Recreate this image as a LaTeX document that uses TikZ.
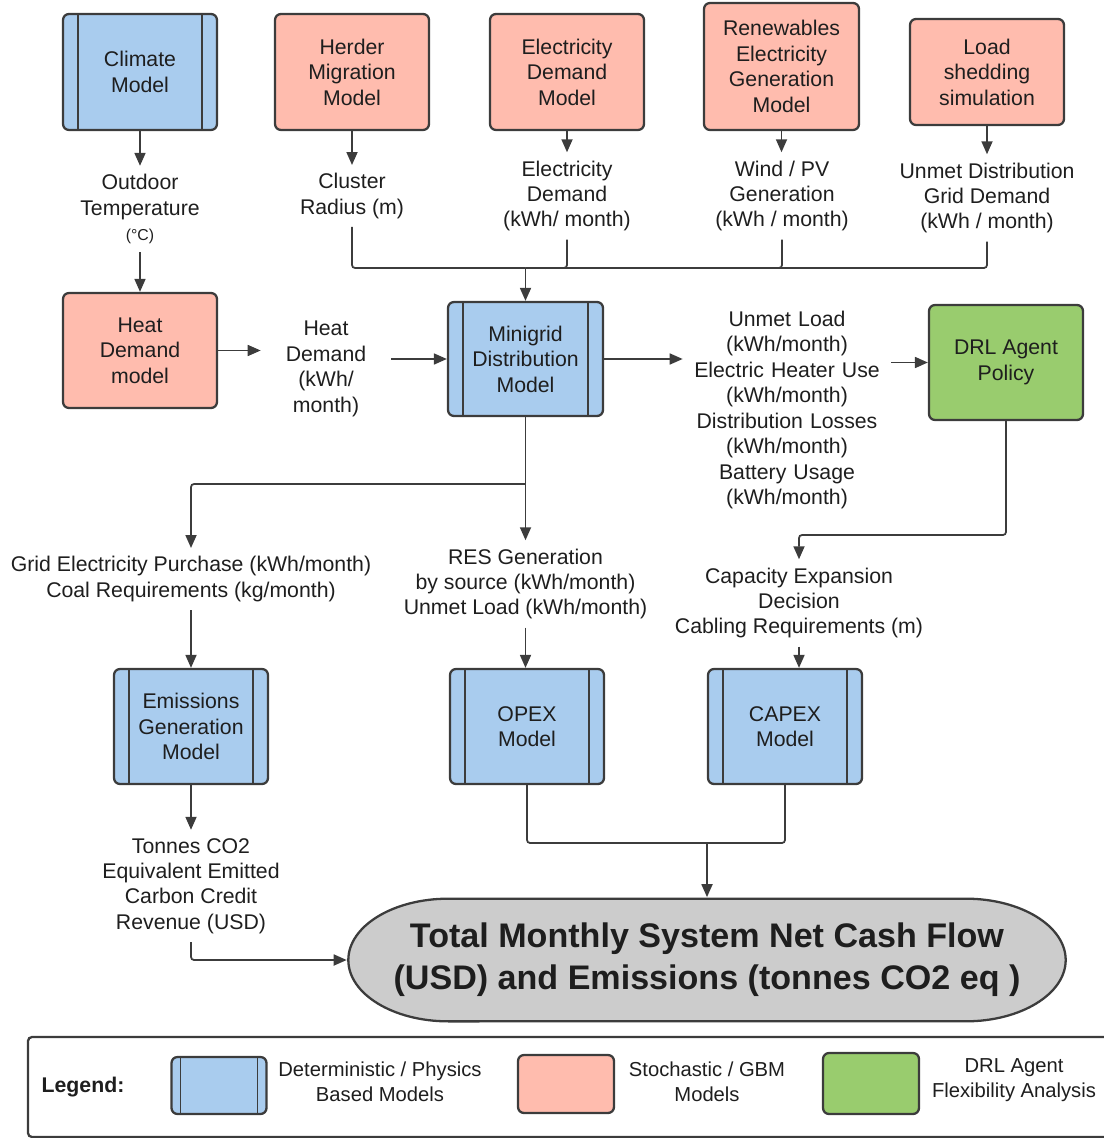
\documentclass[tikz,border=0pt]{standalone}
\usepackage{fontspec}
\setmainfont{Liberation Sans}
\usepackage{tikz}
\usetikzlibrary{arrows.meta}
\definecolor{physblue}{HTML}{A9CCEE}
\definecolor{stochred}{HTML}{FFBCAE}
\definecolor{agentgreen}{HTML}{99CC6E}
\definecolor{totalgrey}{HTML}{CCCCCC}
\definecolor{lineink}{HTML}{3C3C3C}
\definecolor{textink}{HTML}{1E1E1E}
\tikzset{
  model box/.style={
    draw=lineink, line width=1.3pt, rounded corners=0.12cm,
    minimum width=3.08cm, minimum height=2.32cm, align=center,
    text=textink, font=\fontsize{12.1}{14.5}\selectfont
  },
  style phys/.style={
    model box, fill=physblue,
    path picture={
      \draw[lineink, line width=1.1pt]
        ([xshift=#1]path picture bounding box.north west) -- ([xshift=#1]path picture bounding box.south west)
        ([xshift=-#1]path picture bounding box.north east) -- ([xshift=-#1]path picture bounding box.south east);
    }
  },
  style phys/.default=0.3cm,
  style stoch/.style={model box, fill=stochred},
  style agent/.style={model box, fill=agentgreen},
  flow label/.style={
    align=center, inner xsep=0pt, inner ysep=0.16cm,
    text=textink, font=\fontsize{12.1}{14.5}\selectfont
  },
  legend text/.style={
    align=center, inner sep=0pt,
    text=textink, font=\fontsize{11.5}{14.2}\selectfont
  },
  total/.style={
    rectangle, inner sep=0pt,
    minimum width=14.4cm, minimum height=2.5cm, align=center,
    text=textink, font=\fontsize{19.4}{23.8}\selectfont\bfseries,
    path picture={
      \filldraw[draw=lineink, fill=totalgrey, line width=1.3pt]
        ([xshift=2.025cm, yshift=-0.65pt]path picture bounding box.north west)
        -- ([xshift=-2.025cm, yshift=-0.65pt]path picture bounding box.north east)
        arc[start angle=90, end angle=-90, x radius=2cm, y radius=1.227cm]
        -- ([xshift=2.025cm, yshift=0.65pt]path picture bounding box.south west)
        arc[start angle=270, end angle=90, x radius=2cm, y radius=1.227cm]
        -- cycle;
    }
  },
  flow/.style={draw=lineink, line width=1pt, rounded corners=0.06cm, -{Triangle[length=0.26cm,width=0.22cm]}},
  link/.style={draw=lineink, line width=1pt, rounded corners=0.06cm}
}

\begin{document}
\begin{tikzpicture}[x=0.02cm, y=-0.02cm]
    \useasboundingbox (0,0) rectangle (1103,1138);

    \node[style phys] (clim) at (140,72) {Climate\\Model};
    \node[style stoch] (herder) at (352,72) {Herder\\Migration\\Model};
    \node[style stoch] (edem) at (567,72) {Electricity\\Demand\\Model};
    \node[style stoch, minimum width=3.1cm, minimum height=2.54cm] (renew) at (781.5,66.5) {Renewables\\Electricity\\Generation\\Model};
    \node[style stoch, minimum height=2.12cm] (shed) at (987,72) {Load\\shedding\\simulation};
    \node[style stoch, minimum height=2.3cm] (heat) at (140,350.5) {Heat\\Demand\\model};
    \node[style phys, minimum width=3.1cm, minimum height=2.28cm] (mini) at (525.5,359) {Minigrid\\Distribution\\Model};
    \node[style agent, minimum height=2.3cm] (drl) at (1006,362.5) {DRL Agent\\Policy};
    \node[style phys, minimum height=2.3cm] (emis) at (191,726.5) {Emissions\\Generation\\Model};
    \node[style phys, minimum height=2.3cm] (opex) at (527,726.5) {OPEX\\Model};
    \node[style phys, minimum height=2.3cm] (capex) at (785,726.5) {CAPEX\\Model};
    \node[total] (sum) at (707,960) {Total Monthly System Net Cash Flow\\(USD) and Emissions (tonnes CO2 eq )};

    \begin{scope}[every node/.style={flow label}]
        \node (tout) at (140,209) {Outdoor\\Temperature\\{\fontsize{9}{11}\selectfont(°C)}};
        \node (radius) at (352,196) {Cluster\\Radius (m)};
        \node (edemout) at (567,196) {Electricity\\Demand\\(kWh/ month)};
        \node (windpv) at (782,196) {Wind / PV\\Generation\\(kWh / month)};
        \node (unmetgrid) at (987,198) {Unmet Distribution\\Grid Demand\\(kWh / month)};
        \node[text width=2.6cm] (heatout) at (326,369) {Heat\\Demand\\(kWh/\\month)};
        \node[text width=4.16cm] (miniout) at (787,410) {Unmet Load\\(kWh/month)\\Electric Heater Use\\(kWh/month)\\Distribution Losses\\(kWh/month)\\Battery Usage\\(kWh/month)};
        \node (gridout) at (191,579) {Grid Electricity Purchase (kWh/month)\\Coal Requirements (kg/month)};
        \node (resout) at (525.5,584) {RES Generation\\by source (kWh/month)\\Unmet Load (kWh/month)};
        \node (capexp) at (799,603) {Capacity Expansion\\Decision\\Cabling Requirements (m)};
        \node (co2out) at (191,886) {Tonnes CO2\\Equivalent Emitted\\Carbon Credit\\Revenue (USD)};
    \end{scope}

    \coordinate (mtop) at (525.5,268);
    \coordinate (msplit) at (525.5,484);
    \coordinate (dbend) at (1006,535);
    \coordinate (tjoin) at (707,843);

    \draw[flow] (clim) -- (tout);
    \draw[flow] (tout) -- (heat);
    \draw[flow] (herder) -- (radius);
    \draw[flow] (edem) -- (edemout);
    \draw[flow] (renew.south) -- (renew.south |- windpv.north);
    \draw[flow] (shed) -- (unmetgrid);
    \draw[link] (radius.south) |- (mtop);
    \draw[link] (edemout.south) |- (mtop);
    \draw[link] (windpv.south) |- (mtop);
    \draw[link] (unmetgrid.south) |- (mtop);
    \draw[flow] (mtop) -- (mini.north);
    \draw[flow] (heat.east) -- (heatout.west |- heat.east);
    \draw[flow] (heatout.east |- mini.west) -- (mini.west);
    \draw[flow] (mini.east) -- (miniout.west |- mini.east);
    \draw[flow] (miniout.east |- drl.west) -- (drl.west);
    \draw[link] (mini.south) -- (msplit);
    \draw[flow] (msplit) -| (gridout.north);
    \draw[flow] (msplit) -- (resout.north);
    \draw[flow] (gridout) -- (emis);
    \draw[flow] (resout.south) -- (resout.south |- opex.north);
    \draw[flow] (drl.south) -- (dbend) -| (capexp.north);
    \draw[flow] (capexp.south) -- (capexp.south |- capex.north);
    \draw[flow] (emis) -- (co2out);
    \draw[flow] (co2out.south) |- (sum.west);
    \draw[link] (opex.south) |- (tjoin);
    \draw[link] (capex.south) |- (tjoin);
    \draw[flow] (tjoin) -- (sum.north);

    \draw[draw=lineink, line width=1.3pt, rounded corners=0.08cm] (28,1037) rectangle (1130,1137);
    \node[font=\fontsize{12.1}{14.5}\selectfont\bfseries, text=textink] (legtitle) at (83,1087) {Legend:};
    \node[style phys=0.18cm, minimum width=1.9cm, minimum height=1.14cm] (legphys) at (219,1085.5) {};
    \node[legend text] (legphystext) at (380,1082) {Deterministic / Physics\\Based Models};
    \node[style stoch, minimum width=1.92cm, minimum height=1.16cm] (legstoch) at (566,1084) {};
    \node[legend text] (legstochtext) at (707,1082) {Stochastic / GBM\\Models};
    \node[style agent, minimum width=1.92cm, minimum height=1.22cm] (legagent) at (871,1083.5) {};
    \node[legend text] (legagenttext) at (1014,1080) {DRL Agent\\Flexibility Analysis};
\end{tikzpicture}
\end{document}
